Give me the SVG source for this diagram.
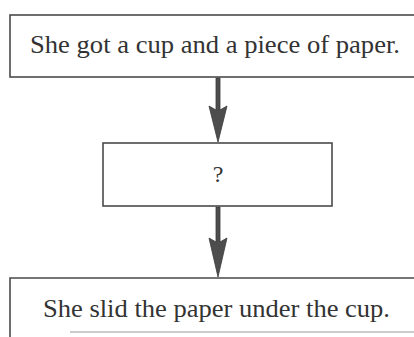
<svg xmlns="http://www.w3.org/2000/svg" width="414" height="337" viewBox="0 0 414 337">
  <style>
    .box { fill: #ffffff; stroke: #4a4a4a; stroke-width: 1.6; }
    .lbl { font-family: "Liberation Serif", "Times New Roman", serif; fill: #333333; }
    .arrow { fill: #4d4d4d; stroke: #3a3a3a; stroke-width: 0.8; }
  </style>
  <defs>
    <marker id="head" viewBox="0 0 18 32" refX="9" refY="32" markerWidth="18" markerHeight="32" markerUnits="userSpaceOnUse" orient="auto">
      <path d="M0,0 L9,6 L18,0 L9,32 Z" fill="#4d4d4d"/>
    </marker>
  </defs>
  <rect width="414" height="337" fill="#ffffff"/>

  <g id="connectors">
    <path class="arrow" d="M216,78 L220,78 L220,110 L227,106 L218,142 L209,106 L216,110 Z"/>
    <path class="arrow" d="M216,207 L220,207 L220,242 L227,238 L218,277 L209,238 L216,242 Z"/>
  </g>

  <g id="node-1">
    <rect class="box" x="10" y="15" width="412" height="62"/>
    <text class="lbl" x="30" y="53" font-size="26" textLength="370" lengthAdjust="spacingAndGlyphs">She got a cup and a piece of paper.</text>
  </g>

  <g id="node-2">
    <rect class="box" x="103" y="143" width="229" height="63"/>
    <text class="lbl" x="218" y="182" font-size="24" text-anchor="middle">?</text>
  </g>

  <g id="node-3">
    <path d="M10,337 L10,278 L422,278" fill="none" stroke="#4a4a4a" stroke-width="1.6"/>
    <path d="M70,332 L414,332" fill="none" stroke="#9a9a9a" stroke-width="1.2"/>
    <text class="lbl" x="43" y="317" font-size="25" textLength="347" lengthAdjust="spacingAndGlyphs">She slid the paper under the cup.</text>
  </g>
</svg>
